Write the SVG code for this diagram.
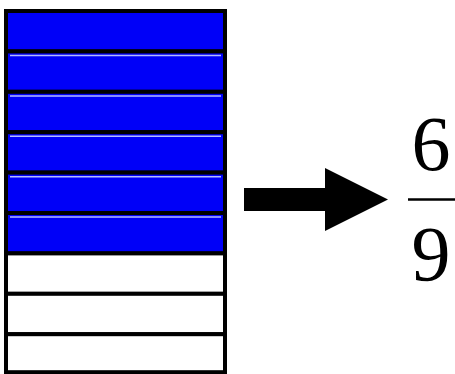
<svg xmlns="http://www.w3.org/2000/svg" width="455" height="374" viewBox="0 0 455 374">
<style>
.blue{fill:#0000f8;stroke:#000;stroke-width:4}
.white{fill:#fff;stroke:#000;stroke-width:4}
.hl{stroke:#b4baff;stroke-width:1.5}
text{font-family:"Liberation Serif","Times New Roman","DejaVu Serif",serif;font-size:78px;fill:#000;text-anchor:middle}
</style>
<rect width="455" height="374" fill="#fff"/>
<g id="bar">
<rect class="blue" x="6" y="11" width="219" height="40.4"/>
<rect class="blue" x="6" y="51.4" width="219" height="40.4"/>
<rect class="blue" x="6" y="91.8" width="219" height="40.4"/>
<rect class="blue" x="6" y="132.2" width="219" height="40.4"/>
<rect class="blue" x="6" y="172.6" width="219" height="40.4"/>
<rect class="blue" x="6" y="213" width="219" height="40.4"/>
<rect class="white" x="6" y="253.4" width="219" height="40.4"/>
<rect class="white" x="6" y="293.8" width="219" height="40.4"/>
<rect class="white" x="6" y="334.2" width="219" height="38"/>
<line class="hl" x1="10" y1="55.5" x2="221" y2="55.5"/>
<line class="hl" x1="10" y1="95.9" x2="221" y2="95.9"/>
<line class="hl" x1="10" y1="136.3" x2="221" y2="136.3"/>
<line class="hl" x1="10" y1="176.7" x2="221" y2="176.7"/>
<line class="hl" x1="10" y1="217.1" x2="221" y2="217.1"/>
</g>
<g id="connectors">
<polygon points="244,188 325,188 325,168 388,199.5 325,231 325,211 244,211" fill="#000"/>
</g>
<g id="fraction">
<text x="431" y="170" font-family="Liberation Serif, serif">6</text>
<line x1="408" y1="199.5" x2="455" y2="199.5" stroke="#000" stroke-width="2.5"/>
<text x="431" y="280" font-family="Liberation Serif, serif">9</text>
</g>
</svg>
